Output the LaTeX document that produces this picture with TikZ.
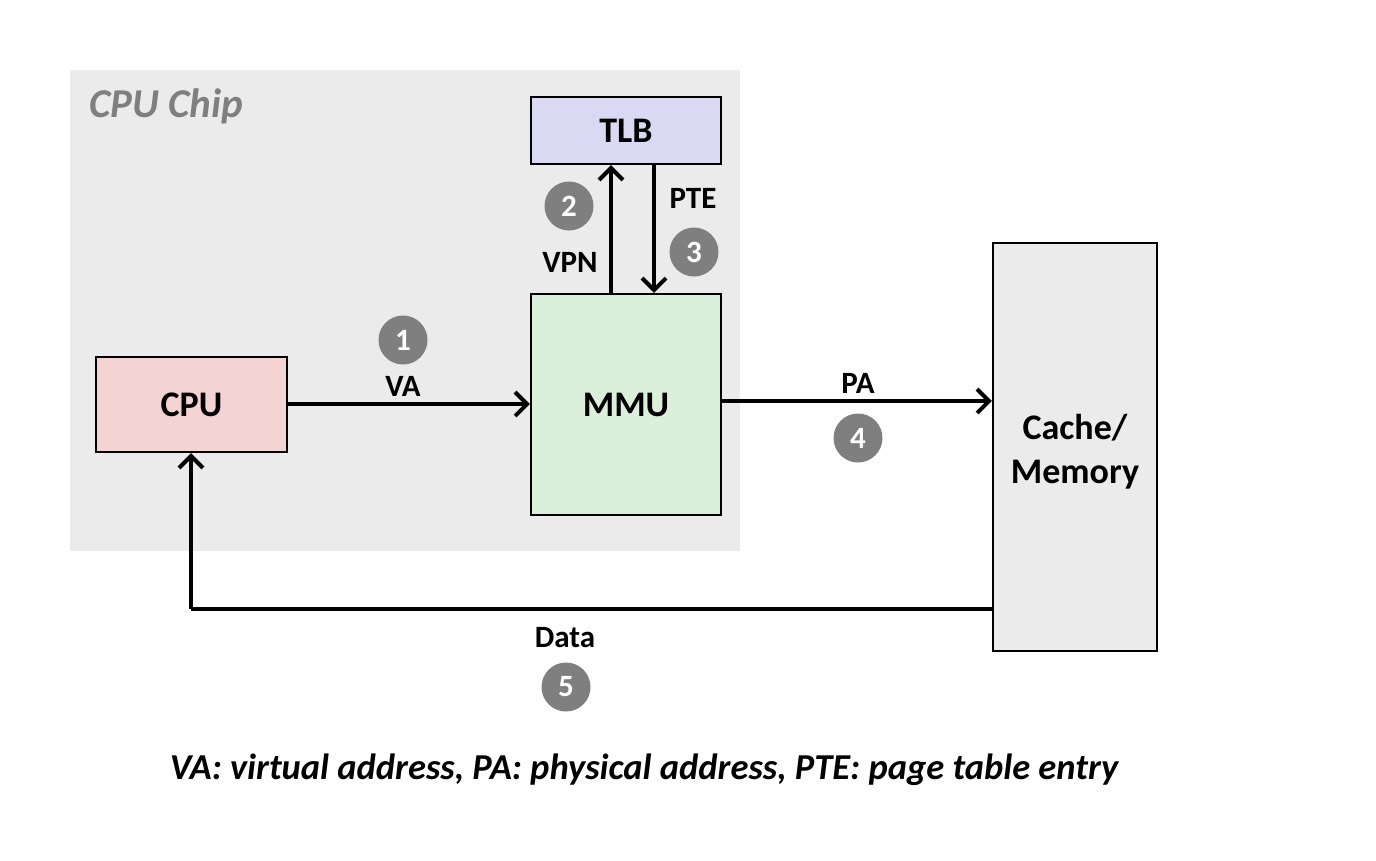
\documentclass[tikz,border=0pt]{standalone}
\usepackage{fontspec}
\setmainfont{Carlito}
\usetikzlibrary{arrows.meta}
\definecolor{chipbg}{HTML}{EBEBEB}
\definecolor{tlbfill}{HTML}{D9D9F3}
\definecolor{mmufill}{HTML}{DAF0DA}
\definecolor{cpufill}{HTML}{F4D3D3}
\definecolor{numgray}{HTML}{7F7F7F}
\definecolor{chiptext}{HTML}{7F7F7F}
\tikzset{
  unitbox/.style={draw=black, line width=2.2pt, inner sep=0pt, font=\fontsize{36}{44}\selectfont\bfseries, align=center},
  conn/.style={line width=4pt, -{Straight Barb[length=12pt,width=24pt,line width=4pt]}},
  plain/.style={line width=4pt},
  lbl/.style={font=\fontsize{31}{36}\selectfont\bfseries, inner sep=0pt},
  num/.style={circle, fill=numgray, minimum size=49pt, inner sep=0pt, text=white, font=\fontsize{31}{34}\selectfont\bfseries}
}
\begin{document}
\begin{tikzpicture}[x=1pt,y=-1pt]
\useasboundingbox (0,0) rectangle (1376,860);
\fill[chipbg] (70,70) rectangle (740,551);
\node[anchor=base west, inner sep=0pt, text=chiptext, font=\fontsize{41}{46}\selectfont\bfseries\itshape] (chiplbl) at (89,117) {CPU Chip};

\node[unitbox, fill=tlbfill, minimum width=190pt, minimum height=67pt] (tlb) at (626,130.5) {TLB};
\node[unitbox, fill=mmufill, minimum width=190pt, minimum height=221pt] (mmu) at (626,404.5) {MMU};
\node[unitbox, fill=cpufill, minimum width=191pt, minimum height=95pt] (cpu) at (191.5,404.5) {CPU};
\node[unitbox, fill=chipbg, minimum width=164pt, minimum height=408pt] (mem) at (1075,447) {};
\node[font=\fontsize{36}{44}\selectfont\bfseries, align=center, inner sep=0pt] (memlbl) at ([yshift=-5pt]mem.center) {Cache/\\Memory};

% connectors
\draw[conn] (cpu.east |- 0,404) -- (mmu.west |- 0,404);
\draw[conn] (mmu.north -| 611,0) -- (tlb.south -| 611,0);
\draw[conn] (tlb.south -| 654,0) -- (mmu.north -| 654,0);
\draw[conn] (mmu.east |- 0,401) -- (mem.west |- 0,401);
\coordinate (dcorner) at (191,609);
\draw[plain] (mem.west |- 0,609) -- (dcorner);
\draw[conn] (dcorner) -- (cpu.south -| 191,0);

% labels
\node[lbl] (va) at (403,386) {VA};
\node[lbl] (vpn) at (570,262) {VPN};
\node[lbl] (pte) at (693,198) {PTE};
\node[lbl] (pa) at (858,383) {PA};
\node[lbl] (data) at (565,638) {Data};

\node[num] (n1) at (403,340) {1};
\node[num] (n2) at (569,206) {2};
\node[num] (n3) at (694,252) {3};
\node[num] (n4) at (858,438) {4};
\node[num] (n5) at (566,687) {5};

\node[inner sep=0pt, font=\fontsize{36.5}{40}\selectfont\bfseries\itshape] (caption) at (644,770) {VA: virtual address, PA: physical address, PTE: page table entry};
\end{tikzpicture}
\end{document}
